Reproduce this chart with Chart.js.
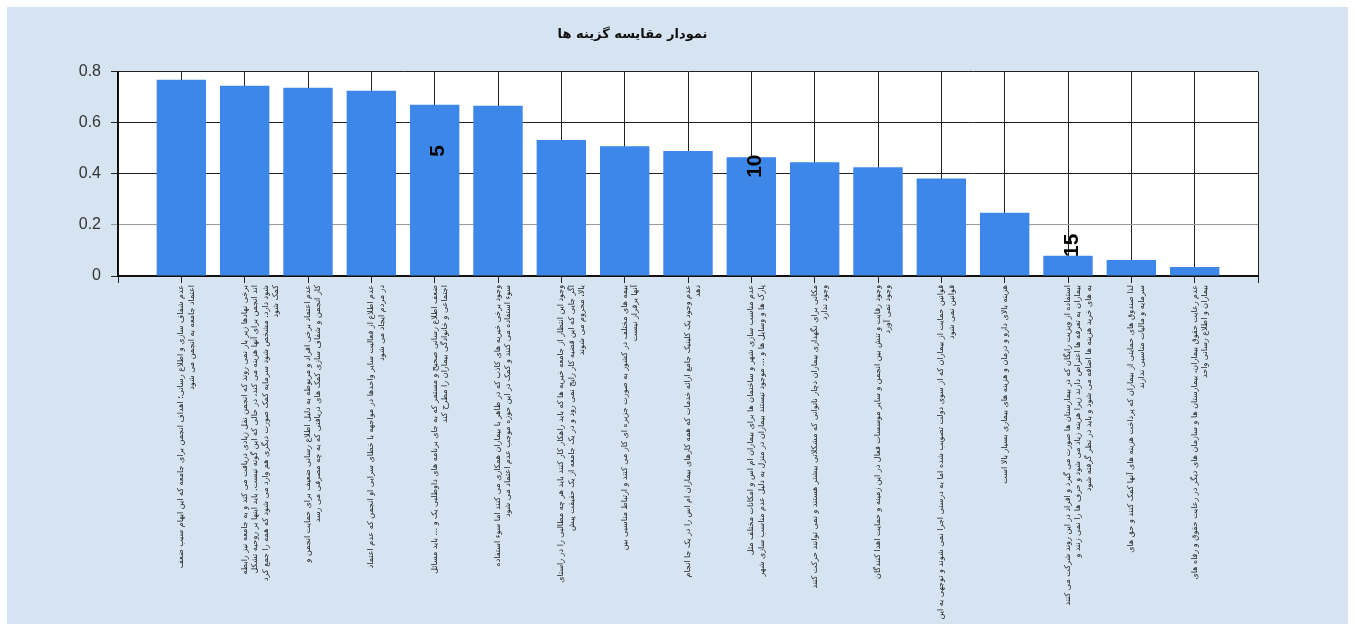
<!DOCTYPE html>
<html>
<head>
<meta charset="utf-8">
<script src="https://cdn.jsdelivr.net/npm/chart.js@4.4.1/dist/chart.umd.min.js"></script>
<style>
    body { margin: 0; background: #ffffff; }
    #wrap { position: absolute; left: 7px; top: 7px; width: 1341px; height: 617px; background: #d6e3f0; }
</style>
</head>
<body>
<div id="wrap"><canvas id="myChart" width="1341" height="617"></canvas></div>
<script>
const chartTitle = 'نمودار مقایسه گزینه ها';

// one entry per bar, each line of a label is a string
const categories = [
    ['عدم شفاف سازی و اطلاع رسانی؛ اهداف انجمن برای جامعه که این ابهام سبب ضعف', 'اعتماد جامعه به انجمن می شود'],
    ['برخی نهادها زیر بار نمی روند که انجمن نقل زیادی دریافت می کند و به جامعه نیز رابطه', 'اند انجمن برای آنها هزینه می کند، در حالی که این گونه نیست. باید اینها بر روحیه تشکل', 'شود دارد. مشخص شود سرمایه کمک صورت دیگری هم وارد می شود که همه را جمع کرد', 'کمک شود'],
    ['عدم اعتماد برخی افراد و مربوطه به دلیل اطلاع رسانی ضعیف برای حمایت انجمن و', 'کار انجمن و شفاف سازی کمک های دریافتی که به چه مصرفی می رسد'],
    ['عدم اطلاع از فعالیت سایر واحدها در مواجهه با خطای سرایی او انجمن که عدم اعتماد', 'در مردم ایجاد می شود'],
    ['ضعف اطلاع رسانی صحیح و مستمر که به جای برنامه های داوطلبی یک و ... باید مسائل', 'اجتماعی و خانوادگی بیماران را مطرح کند'],
    ['وجود برخی خیریه های کاذب که در ظاهر با بیماران همکاری می کنند اما سوء استفاده', 'سوء استفاده می کنند و کمک در این حوزه موجب عدم اعتماد می شود'],
    ['وجود این انتظار از جامعه خیریه ها که باید راهکار کار کنند باید هر چه مطالبی را در راستای', 'اگر جایی که این قضیه کار رایج نمی رود و در یک جامعه از یک حقیقت پیش', 'بالا، محروم می شوند'],
    ['بیمه های مختلف در کشور به صورت جزیره ای کار می کنند و ارتباط مناسبی بین', 'آنها برقرار نیست'],
    ['عدم وجود یک کلینیک جامع ارائه خدمات که همه کارهای بیماران ام اس را در یک جا انجام', 'دهد'],
    ['عدم مناسب سازی شهر و ساختمان ها برای بیماران ام اس و امکانات مختلف مثل', 'پارک ها و وسایل ها و ... موجود نیستند بیماران در منزل به دلیل عدم مناسب سازی شهر'],
    ['مکانی برای نگهداری بیماران دچار ناتوانی که مشکلاتی بیشتر هستند و نمی توانند حرکت کنند', 'وجود ندارد'],
    ['وجود رقابت و تنش بین انجمن و سایر موسسات فعال در این زمینه و حمایت اهدا کنندگان', 'وجود نمی آورد'],
    ['قوانین حمایت از بیماران که از سوی دولت تصویب شده اما به درستی اجرا نمی شوند و توجهی به این', 'قوانین نمی شود'],
    ['هزینه بالای دارو و درمان و هزینه های بیماری بسیار بالا است'],
    ['استفاده از ویزیت رایگان که در بیمارستان ها صورت می گیرد و افراد در این روند شرکت می کنند', 'بیماران به تعرفه ها اعتراض دارند زیرا هزینه زیاد می شود و حرف ها را نمی زنند و', 'به های خرید هزینه ها اضافه می شود و باید در نظر گرفته شود'],
    ['لذا صندوق های حمایتی از بیماران که پرداخت هزینه های آنها کمک کنند و حق های', 'سرمایه و مالیات مناسبی ندارند'],
    ['عدم رعایت حقوق بیماران، بیمارستان ها و سازمان های دیگر در رعایت حقوق و رفاه های', 'بیماران و اطلاع رسانی واحد']
];

const values = [0.768, 0.745, 0.737, 0.725, 0.670, 0.666, 0.532, 0.508, 0.489, 0.465, 0.445, 0.426, 0.382, 0.248, 0.079, 0.063, 0.035];

const yTicks = [0, 0.2, 0.4, 0.6, 0.8];

// index numbers written on every fifth bar
const markIndex = [4, 9, 14];
const markText = ['5', '10', '15'];
const markY = [0.49, 0.43, 0.12];

const barColor = 'rgb(61,135,232)';

const bgPlugin = {
    id: 'plotBg',
    beforeDraw(chart) {
        const a = chart.chartArea;
        const c = chart.ctx;
        c.save();
        c.fillStyle = '#ffffff';
        c.fillRect(a.left, a.top, a.right - a.left, a.bottom - a.top);
        c.restore();
    }
};

const markPlugin = {
    id: 'marks',
    afterDatasetsDraw(chart) {
        const meta = chart.getDatasetMeta(0);
        const yScale = chart.scales.y;
        const c = chart.ctx;
        c.save();
        c.fillStyle = '#000000';
        c.font = 'bold 21px "Liberation Sans", Arial, sans-serif';
        c.textAlign = 'center';
        c.textBaseline = 'middle';
        markIndex.forEach((idx, k) => {
            const bar = meta.data[idx];
            c.save();
            c.translate(bar.x + 4, yScale.getPixelForValue(markY[k]));
            c.rotate(-Math.PI / 2);
            c.fillText(markText[k], 0, 0);
            c.restore();
        });
        c.restore();
    }
};

const points = values.map((v, i) => ({ x: i + 1, y: v }));

const ctx = document.getElementById('myChart').getContext('2d');
const myChart = new Chart(ctx, {
    type: 'bar',
    data: {
        datasets: [{
            data: points,
            backgroundColor: barColor,
            borderWidth: 0,
            barPercentage: 0.78,
            categoryPercentage: 1
        }]
    },
    options: {
        responsive: false,
        animation: false,
        layout: { padding: { left: 0, right: 90, top: 12, bottom: 0 } },
        plugins: {
            legend: { display: false },
            tooltip: { enabled: false },
            title: {
                display: true,
                text: chartTitle,
                color: '#111111',
                font: { family: 'DejaVu Sans', size: 13, weight: 'bold' },
                padding: { top: 8, bottom: 29 }
            }
        },
        scales: {
            x: {
                type: 'linear',
                offset: false,
                min: 0,
                max: categories.length + 1,
                afterFit: s => { s.height = 348; },
                border: { color: '#111111', width: 2 },
                grid: { offset: false, color: '#222222', lineWidth: 1, tickLength: 7 },
                ticks: {
                    stepSize: 1,
                    autoSkip: false,
                    maxTicksLimit: 100,
                    minRotation: 90,
                    maxRotation: 90,
                    padding: 2,
                    color: '#222222',
                    font: { family: 'DejaVu Sans', size: 8, lineHeight: 1.3 },
                    callback: v => categories[v - 1] || ''
                }
            },
            y: {
                min: 0,
                max: 0.8,
                afterFit: s => { s.width = 111; },
                afterBuildTicks: s => { s.ticks = yTicks.map(v => ({ value: v })); },
                border: { color: '#111111', width: 2 },
                grid: {
                    color: c => c.tick && c.tick.value === 0.2 ? '#9a9a9a' : '#222222',
                    lineWidth: 1,
                    tickLength: 7
                },
                ticks: {
                    padding: 10,
                    color: '#333333',
                    font: { family: 'Liberation Sans', size: 16 },
                    callback: v => String(v)
                }
            }
        }
    },
    plugins: [bgPlugin, markPlugin]
});
</script>
</body>
</html>
